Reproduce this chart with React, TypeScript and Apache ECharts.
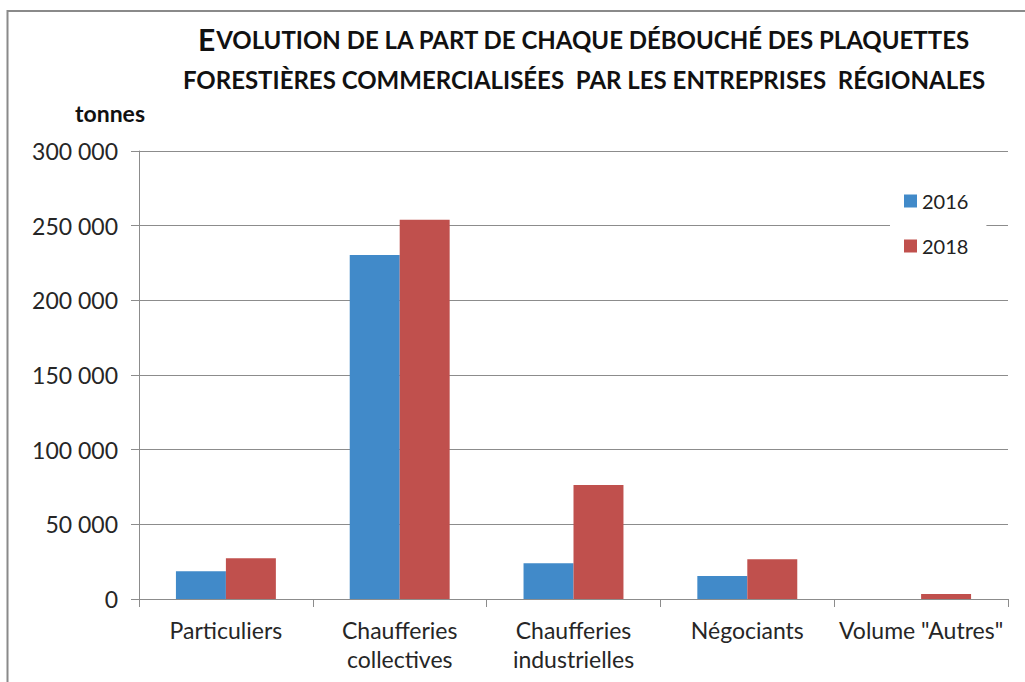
import React, { useEffect, useRef } from "react";
import * as echarts from "echarts";

const categories = [
  "Particuliers",
  "Chaufferies\ncollectives",
  "Chaufferies\nindustrielles",
  "Négociants",
  'Volume "Autres"',
];
const series2016 = [18500, 230400, 23900, 15400, 0];
const series2018 = [27300, 253900, 76400, 26600, 3300];
const seriesNames = ["2016", "2018"];
const titleFirst = "E";
const titleLine1 = "VOLUTION DE LA PART DE CHAQUE DÉBOUCHÉ DES PLAQUETTES";
const titleLine2 = "FORESTIÈRES COMMERCIALISÉES  PAR LES ENTREPRISES  RÉGIONALES";
const unitLabel = "tonnes";

const FONT = "Lato, 'Open Sans', sans-serif";

function fmt(v: number): string {
  return String(v).replace(/\B(?=(\d{3})+(?!\d))/g, " ");
}

export default function App() {
  const ref = useRef<HTMLDivElement>(null);
  useEffect(() => {
    if (!ref.current) return;
    const chart = echarts.init(ref.current, null, { renderer: "svg" });
    chart.setOption({
      animation: false,
      backgroundColor: "#ffffff",
      textStyle: { fontFamily: FONT },
      grid: {
        left: 139,
        right: 17,
        top: 151,
        bottom: 83,
        containLabel: false,
        outerBoundsMode: "none",
      },
      legend: {
        orient: "vertical",
        left: 890,
        top: 181,
        padding: [10, 18, 10, 14],
        backgroundColor: "#ffffff",
        itemWidth: 13,
        itemHeight: 13,
        itemGap: 25,
        icon: "rect",
        textStyle: { fontSize: 20, color: "#222", fontFamily: FONT },
        data: seriesNames,
      },
      xAxis: {
        type: "category",
        data: categories,
        axisLine: { lineStyle: { color: "#8c8c8c", width: 1 } },
        axisTick: { show: true, length: 8, lineStyle: { color: "#8c8c8c" } },
        axisLabel: {
          fontSize: 23,
          color: "#262626",
          margin: 16,
          lineHeight: 29,
          interval: 0,
          fontFamily: FONT,
        },
      },
      yAxis: {
        type: "value",
        min: 0,
        max: 300000,
        interval: 50000,
        axisLine: { show: true, lineStyle: { color: "#8c8c8c", width: 1 } },
        axisTick: { show: true, length: 8, lineStyle: { color: "#8c8c8c" } },
        splitLine: { lineStyle: { color: "#8c8c8c", width: 1 } },
        axisLabel: {
          fontSize: 23,
          color: "#262626",
          margin: 21,
          fontFamily: FONT,
          formatter: (v: number) => fmt(v),
        },
      },
      series: [
        {
          name: seriesNames[0],
          type: "bar",
          data: series2016,
          barGap: "0%",
          barCategoryGap: "42.5%",
          itemStyle: { color: "#418AC9" },
        },
        {
          name: seriesNames[1],
          type: "bar",
          data: series2018,
          barGap: "0%",
          barCategoryGap: "42.5%",
          itemStyle: { color: "#C0504D" },
        },
      ],
      graphic: [
        {
          type: "rect",
          shape: { x: 7.5, y: 11, width: 1040, height: 700 },
          style: { fill: "none", stroke: "#8a8a8a", lineWidth: 2 },
          silent: true,
        },
        {
          type: "text",
          x: 584,
          y: 59,
          style: {
            text:
              "{b|" + titleFirst + "}{a|" + titleLine1 + "}\n{a|" + titleLine2 + "}",
            align: "center",
            verticalAlign: "middle",
            fill: "#111",
            rich: {
              a: {
                fontSize: 24,
                fontWeight: "bold",
                fontFamily: FONT,
                lineHeight: 40,
                fill: "#111",
              },
              b: {
                fontSize: 30,
                fontWeight: "bold",
                fontFamily: FONT,
                lineHeight: 40,
                fill: "#111",
              },
            },
          },
        },
        {
          type: "text",
          x: 110,
          y: 113,
          style: {
            text: unitLabel,
            align: "center",
            verticalAlign: "middle",
            fontSize: 23,
            fontWeight: "bold",
            fontFamily: FONT,
            fill: "#111",
          },
        },
      ],
    });
    return () => chart.dispose();
  }, []);
  return (
    <div
      ref={ref}
      style={{ position: "absolute", left: 0, top: 0, width: 1025, height: 682 }}
    />
  );
}
